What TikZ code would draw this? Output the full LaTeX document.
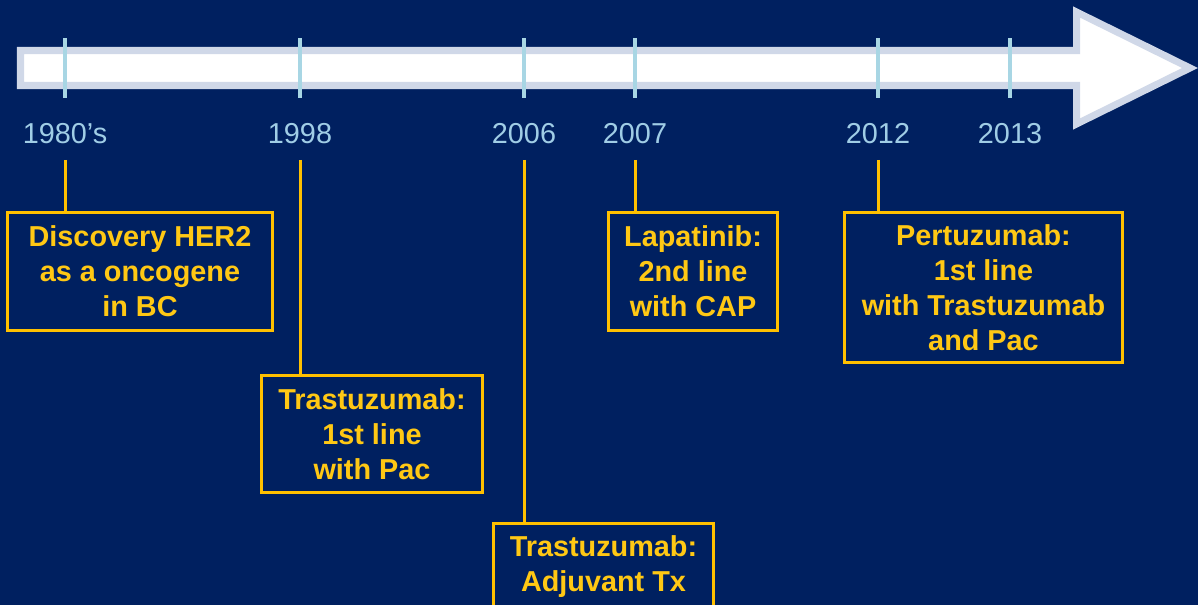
\documentclass[tikz,border=0pt]{standalone}
\usepackage{fontspec}
\setmainfont{Liberation Sans}
\definecolor{navy}{RGB}{0,32,96}
\definecolor{gold}{RGB}{255,192,0}
\definecolor{goldtext}{RGB}{255,200,20}
\definecolor{yearblue}{RGB}{160,205,230}
\definecolor{tickblue}{RGB}{168,214,228}
\definecolor{arrowrim}{RGB}{208,216,232}

\begin{document}
\begin{tikzpicture}[
  x=0.025cm, y=-0.025cm,
  year/.style={text=yearblue, font=\fontsize{20.5}{24.9}\selectfont,
    inner sep=0pt, text height=0.5cm, text depth=0pt, outer ysep=0.42cm},
  event/.style={draw=gold, line width=0.075cm, text=goldtext, align=center,
    font=\bfseries\fontsize{20.5}{24.9}\selectfont, inner sep=0pt},
  link/.style={draw=gold, line width=0.075cm},
  tick/.style={draw=tickblue, line width=0.09cm},
]
\fill[navy] (0,0) rectangle (1198,605);
\clip (0,0) rectangle (1198,605);

\draw[arrowrim, fill=white, line width=0.175cm, line join=miter]
  (20.5,50.5) -- (1076.5,50.5) -- (1076.5,12) -- (1190,68)
  -- (1076.5,124) -- (1076.5,85.5) -- (20.5,85.5) -- cycle;

\node[year] (y1980) at (65,133) {1980’s};
\node[year] (y1998) at (300,133) {1998};
\node[year] (y2006) at (524,133) {2006};
\node[year] (y2007) at (635,133) {2007};
\node[year] (y2012) at (878,133) {2012};
\node[year] (y2013) at (1010,133) {2013};

\foreach \n in {y1980,y1998,y2006,y2007,y2012,y2013}
  \draw[tick] (\n |- 0,38) -- (\n |- 0,98);

\node[event, minimum width=6.6cm, minimum height=2.925cm] (e1980) at (140,271.5)
  {Discovery HER2\\as a oncogene\\in BC};
\node[event, minimum width=5.5cm, minimum height=2.9cm] (e1998) at (372,434)
  {Trastuzumab:\\1st line\\with Pac};
\node[event, minimum width=5.475cm, minimum height=2.15cm] (e2006) at (603.5,567)
  {Trastuzumab:\\Adjuvant Tx};
\node[event, minimum width=4.2cm, minimum height=2.925cm] (e2007) at (693,271.5)
  {Lapatinib:\\2nd line\\with CAP};
\node[event, minimum width=6.925cm, minimum height=3.725cm] (e2012) at (983.5,287.5)
  {Pertuzumab:\\1st line\\with Trastuzumab\\and Pac};

\foreach \n in {1980,1998,2006,2007,2012}
  \draw[link] (y\n) -- (y\n |- e\n.north);
\end{tikzpicture}
\end{document}
